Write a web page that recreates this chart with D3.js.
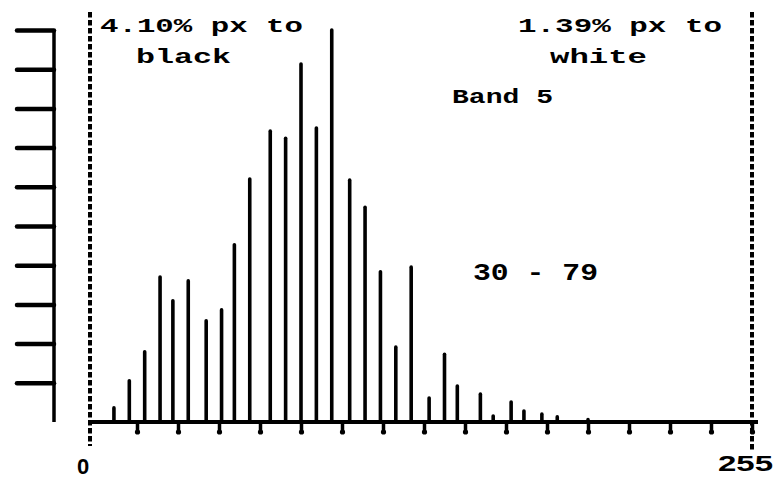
<!DOCTYPE html>
<html>
<head>
<meta charset="utf-8">
<script src="https://cdn.jsdelivr.net/npm/d3@7"></script>
<style>
  html, body { margin: 0; padding: 0; background: #fff; }
  svg { display: block; }
  text { font-family: "Liberation Mono", "DejaVu Sans Mono", monospace; fill: #000; }
</style>
</head>
<body>
<svg id="chart" width="775" height="479"></svg>
<script>
// Gray level (0-255) of each histogram spike
const levels = [7, 13, 19, 25, 30, 36, 43, 49, 54, 60, 68, 74, 80, 86, 92, 99, 105, 111, 117, 123, 130, 136, 141, 150, 155, 162, 167, 174, 180, 192];
// Relative frequency of each spike (axis units 0-10)
const counts = [0.36, 1.05, 1.79, 3.70, 3.09, 3.60, 2.58, 2.86, 4.52, 6.20, 7.42, 7.24, 9.13, 7.50, 10.0, 6.17, 5.48, 3.83, 1.91, 3.95, 0.61, 1.73, 0.92, 0.71, 0.15, 0.51, 0.28, 0.20, 0.13, 0.06];
const xTicks = [16, 32, 48, 64, 80, 96, 112, 128, 144, 160, 176, 192, 208, 224, 240, 256];
const yTicks = [1, 2, 3, 4, 5, 6, 7, 8, 9, 10];
const xEndLabels = ["0", "255"];
const leftNote = ["4.10% px to", "black"];
const rightNote = ["1.39% px to", "white"];
const bandLabel = "Band 5";
const rangeLabel = "30 - 79";

const svg = d3.select("#chart");
const x = d3.scaleLinear().domain([0, 256]).range([96, 752]);
const y = d3.scaleLinear().domain([0, 10]).range([422, 30]);

// Left y axis (ticks pointing left)
const yAxis = svg.append("g")
  .attr("transform", "translate(54,0)")
  .call(d3.axisLeft(y).tickValues(yTicks).tickSize(37).tickSizeOuter(0).tickFormat(""));
yAxis.select(".domain").attr("stroke", "#000").attr("stroke-width", 3.5).attr("d", `M0,${y(10)}V${y(0)}`);
yAxis.selectAll(".tick line").attr("stroke", "#000").attr("stroke-width", 4.5).attr("stroke-linecap", "round");

// Dashed boundary lines
[[90, 12, 446], [752, 12, 450]].forEach(([px, y1, y2]) => {
  svg.append("line").attr("x1", px).attr("x2", px).attr("y1", y1).attr("y2", y2)
    .attr("stroke", "#000").attr("stroke-width", 4)
    .attr("stroke-dasharray", "5.5,2.5");
});

// Spikes
svg.append("g").selectAll("line").data(levels).join("line")
  .attr("x1", d => x(d)).attr("x2", d => x(d))
  .attr("y1", y(0)).attr("y2", (d, i) => y(counts[i]))
  .attr("stroke", "#000").attr("stroke-width", 3.6).attr("stroke-linecap", "round");

// X axis (baseline + ticks below)
const xAxis = svg.append("g")
  .attr("transform", `translate(0,${y(0)})`)
  .call(d3.axisBottom(x).tickValues(xTicks).tickSize(10).tickSizeOuter(0).tickFormat(""));
xAxis.select(".domain").attr("stroke", "#000").attr("stroke-width", 4).attr("d", "M90,0H758");
xAxis.selectAll(".tick line").attr("stroke", "#000").attr("stroke-width", 3.5).attr("stroke-linecap", "round");
xAxis.selectAll(".tick").append("circle").attr("cy", 10).attr("r", 2.6).attr("fill", "#000");

// End labels
svg.append("text").attr("x", 83).attr("y", 474).attr("text-anchor", "middle")
  .style("font-family", "'Liberation Sans', Arial, sans-serif")
  .attr("font-size", 22).attr("font-weight", "bold").text(xEndLabels[0]);
svg.append("text").attr("x", 718).attr("y", 471)
  .style("font-family", "'Liberation Sans', Arial, sans-serif")
  .attr("font-size", 22).attr("font-weight", "bold")
  .attr("textLength", 55).attr("lengthAdjust", "spacingAndGlyphs").text(xEndLabels[1]);

// Annotations
function note(str, px, py, w, fs) {
  svg.append("text").attr("x", px).attr("y", py)
    .attr("font-size", fs).attr("font-weight", "bold")
    .attr("textLength", w).attr("lengthAdjust", "spacingAndGlyphs").text(str);
}
note(leftNote[0], 100, 32, 203, 21);
note(leftNote[1], 136, 63, 95, 21);
note(rightNote[0], 518, 32, 204, 21);
note(rightNote[1], 550, 63, 97, 21);
note(bandLabel, 452, 103, 101, 21);
note(rangeLabel, 473, 280, 125, 24);
</script>
</body>
</html>
